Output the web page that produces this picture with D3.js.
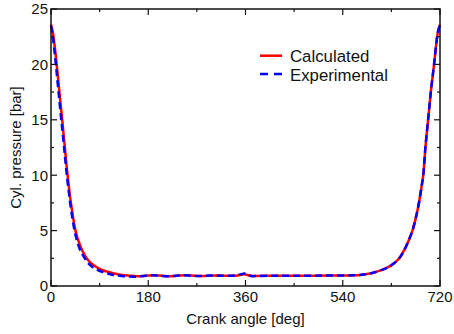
<!DOCTYPE html>
<html lang="en">
<head>
<meta charset="utf-8">
<title>Cylinder pressure</title>
<script src="https://d3js.org/d3.v7.min.js"></script>
<style>
  body { margin: 0; background: #fff; }
  svg { display: block; font-family: "Liberation Sans", Arial, sans-serif; }
  .tick-label { font-size: 15px; fill: #111; }
  .axis-label { font-size: 15px; fill: #111; }
  .legend text { font-size: 16.8px; fill: #111; }
</style>
</head>
<body>
<svg id="chart" width="454" height="334"></svg>
<script>
// crank angle [deg] for the calculated curve
const calcAngle = [0, 3, 6, 9, 12, 15, 18, 21, 24, 27, 30, 33, 36, 40, 44, 48, 52, 56, 60, 66, 72, 80, 88, 96, 105, 115, 131, 145, 160, 170, 180, 190, 200, 215, 230, 245, 260, 275, 290, 305, 320, 335, 345, 352, 358, 364, 370, 380, 400, 420, 450, 480, 510, 540, 560, 572, 590, 603, 615, 624, 635, 646, 655, 662, 669, 675, 681, 686, 689, 693, 698, 703, 709, 713, 716, 720];
const calcPressure = [23.6, 23.0, 22.0, 20.7, 19.3, 17.8, 16.3, 14.9, 13.3, 11.8, 10.3, 9.0, 7.8, 6.5, 5.3, 4.5, 3.9, 3.4, 3.0, 2.5, 2.15, 1.85, 1.6, 1.42, 1.28, 1.15, 1.0, 0.93, 0.88, 0.9, 0.95, 0.98, 0.95, 0.88, 0.9, 0.98, 0.95, 0.9, 0.92, 0.95, 0.93, 0.92, 0.95, 1.02, 1.05, 0.98, 0.92, 0.9, 0.93, 0.93, 0.93, 0.93, 0.94, 0.95, 0.97, 1.0, 1.12, 1.3, 1.5, 1.7, 2.05, 2.6, 3.35, 4.1, 5.0, 6.1, 7.5, 9.0, 10.0, 12.5, 15.0, 17.5, 20.0, 21.8, 22.9, 23.6];

// crank angle [deg] for the experimental curve
const expAngle = [0, 3, 6, 9, 12, 15, 18, 21, 24, 27, 30, 33, 36, 40, 44, 48, 52, 56, 60, 66, 72, 80, 88, 96, 105, 115, 131, 145, 160, 170, 180, 190, 200, 215, 230, 245, 260, 275, 290, 305, 320, 335, 345, 352, 358, 364, 370, 380, 400, 420, 450, 480, 510, 540, 560, 572, 590, 603, 615, 624, 635, 646, 655, 662, 669, 675, 681, 686, 689, 693, 698, 703, 709, 713, 716, 720];
const expPressure = [23.5, 22.6, 21.4, 20.0, 18.5, 17.0, 15.5, 14.1, 12.6, 11.1, 9.7, 8.5, 7.3, 6.0, 4.9, 4.1, 3.5, 3.05, 2.7, 2.25, 1.9, 1.6, 1.4, 1.25, 1.12, 1.0, 0.9, 0.85, 0.85, 0.9, 0.97, 0.97, 0.92, 0.88, 0.92, 0.98, 0.93, 0.9, 0.93, 0.95, 0.92, 0.93, 0.98, 1.07, 1.12, 1.0, 0.9, 0.9, 0.93, 0.93, 0.93, 0.93, 0.94, 0.95, 0.97, 1.0, 1.12, 1.3, 1.5, 1.7, 2.05, 2.6, 3.35, 4.1, 5.0, 6.1, 7.5, 9.0, 10.0, 12.5, 15.0, 17.5, 20.0, 21.8, 22.9, 23.6];

const xTicks = [0, 180, 360, 540, 720];
const xMinor = [90, 270, 450, 630];
const yTicks = [0, 5, 10, 15, 20, 25];
const yMinor = [2.5, 7.5, 12.5, 17.5, 22.5];

const svg = d3.select('#chart');
const pL = 51, pR = 440, pT = 9, pB = 286;

const x = d3.scaleLinear().domain([0, 720]).range([pL, pR]);
const y = d3.scaleLinear().domain([0, 25]).range([pB, pT]);

const calc = calcAngle.map((a, i) => ({a: a, p: calcPressure[i]}));
const exp = expAngle.map((a, i) => ({a: a, p: expPressure[i]}));

const line = d3.line()
    .x(d => x(d.a))
    .y(d => y(d.p))
    .curve(d3.curveCatmullRom.alpha(0.5));

const plot = svg.append('g');

plot.append('path')
    .datum(calc)
    .attr('d', line)
    .attr('fill', 'none')
    .attr('stroke', '#ff0000')
    .attr('stroke-width', 2.5);

plot.append('path')
    .datum(exp)
    .attr('d', line)
    .attr('fill', 'none')
    .attr('stroke', '#0000ff')
    .attr('stroke-width', 2.5)
    .attr('stroke-dasharray', '7,4');

// ticks pointing inwards on all four sides
const tk = svg.append('g').attr('stroke', '#111').attr('stroke-width', 1.2);
xTicks.forEach(v => {
  tk.append('line').attr('x1', x(v)).attr('x2', x(v)).attr('y1', pB).attr('y2', pB - 6);
  tk.append('line').attr('x1', x(v)).attr('x2', x(v)).attr('y1', pT).attr('y2', pT + 6);
});
xMinor.forEach(v => {
  tk.append('line').attr('x1', x(v)).attr('x2', x(v)).attr('y1', pB).attr('y2', pB - 3);
  tk.append('line').attr('x1', x(v)).attr('x2', x(v)).attr('y1', pT).attr('y2', pT + 3);
});
yTicks.forEach(v => {
  tk.append('line').attr('x1', pL).attr('x2', pL + 6).attr('y1', y(v)).attr('y2', y(v));
  tk.append('line').attr('x1', pR).attr('x2', pR - 6).attr('y1', y(v)).attr('y2', y(v));
});
yMinor.forEach(v => {
  tk.append('line').attr('x1', pL).attr('x2', pL + 3).attr('y1', y(v)).attr('y2', y(v));
  tk.append('line').attr('x1', pR).attr('x2', pR - 3).attr('y1', y(v)).attr('y2', y(v));
});

// frame
svg.append('rect')
    .attr('x', pL).attr('y', pT)
    .attr('width', pR - pL).attr('height', pB - pT)
    .attr('fill', 'none')
    .attr('stroke', '#111')
    .attr('stroke-width', 1.5);

// tick labels
svg.selectAll('.xl').data(xTicks).enter().append('text')
    .attr('class', 'tick-label')
    .attr('x', d => x(d))
    .attr('y', 301.5)
    .attr('text-anchor', 'middle')
    .text(d => d);

svg.selectAll('.yl').data(yTicks).enter().append('text')
    .attr('class', 'tick-label')
    .attr('x', 48)
    .attr('y', d => y(d) + 5.3)
    .attr('text-anchor', 'end')
    .text(d => d);

// axis titles
svg.append('text')
    .attr('class', 'axis-label')
    .attr('x', (pL + pR) / 2)
    .attr('y', 323.5)
    .attr('text-anchor', 'middle')
    .text('Crank angle [deg]');

svg.append('text')
    .attr('class', 'axis-label')
    .attr('transform', `translate(21, ${(pT + pB) / 2}) rotate(-90)`)
    .attr('text-anchor', 'middle')
    .text('Cyl. pressure [bar]');

// legend
const lg = svg.append('g').attr('class', 'legend');
lg.append('line').attr('x1', 260).attr('x2', 282).attr('y1', 55.7).attr('y2', 55.7)
    .attr('stroke', '#ff0000').attr('stroke-width', 2.5);
lg.append('text').attr('x', 290).attr('y', 61.5).text('Calculated');
lg.append('line').attr('x1', 260).attr('x2', 282).attr('y1', 74).attr('y2', 74)
    .attr('stroke', '#0000ff').attr('stroke-width', 2.5).attr('stroke-dasharray', '8,6');
lg.append('text').attr('x', 290).attr('y', 80.5).text('Experimental');
</script>
</body>
</html>
